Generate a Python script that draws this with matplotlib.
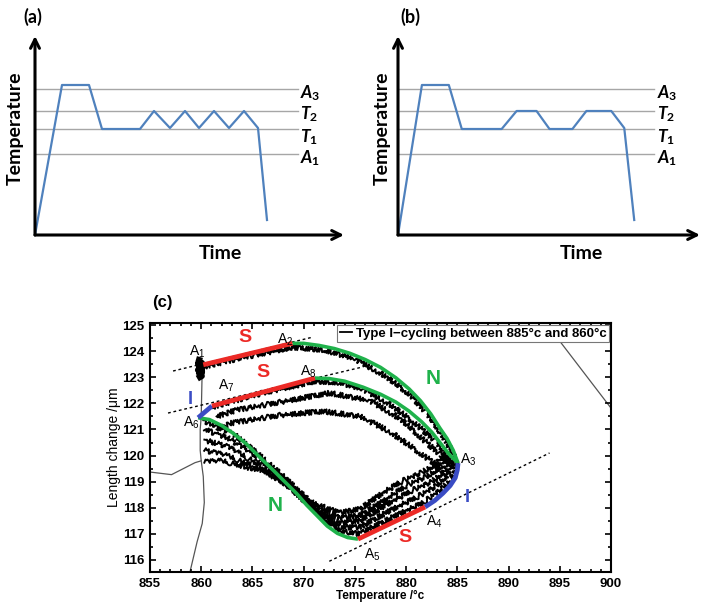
import matplotlib
matplotlib.use('Agg')
import matplotlib.pyplot as plt
from matplotlib.lines import Line2D
from matplotlib.ticker import MultipleLocator

plt.rcParams['mathtext.fontset'] = 'custom'
plt.rcParams['mathtext.it'] = 'Lato:italic:bold'
plt.rcParams['mathtext.rm'] = 'Lato:bold'
plt.rcParams['mathtext.sf'] = 'Liberation Sans'

# ---- (a)/(b) schematic heat treatment profiles (arbitrary units) ----
time_a = [0, 27, 54, 67, 105, 119, 135, 150, 164, 179, 194, 209, 223, 232]
temp_a = [0, 150, 150, 106, 106, 124, 107, 124, 107, 124, 107, 124, 107, 15]
time_b = [0, 24, 51, 64, 104, 119, 139, 152, 175, 189, 214, 227, 237]
temp_b = [0, 150, 150, 106, 106, 124, 124, 106, 106, 124, 124, 107, 15]
level_names = ['A_3', 'T_2', 'T_1', 'A_1']
level_values = [146, 124, 106, 81]

# ---- (c) dilatometry, temperature (C) vs length change (um) ----
# measured traces (heating)
h1_T = [860.2, 864, 868.9, 872, 875, 878, 880.5, 882.5, 884, 885]
h1_L = [123.4, 123.75, 124.15, 124.05, 123.7, 123.05, 122.3, 121.4, 120.5, 119.7]
h2_T = [861.0, 866, 871.1, 873.5, 876, 878.5, 881, 883, 884.5]
h2_L = [121.85, 122.4, 122.85, 122.8, 122.5, 121.95, 121.2, 120.5, 119.8]
h3_T = [861.5, 863.5, 867.7, 872.5, 876.5, 879.5, 882, 884, 885]
h3_L = [121.5, 121.75, 122.05, 122.4, 122.1, 121.4, 120.5, 119.8, 119.5]
h4_T = [861.5, 863, 867.7, 871.9, 875.5, 878.5, 881, 883.5, 884.8]
h4_L = [121.0, 121.25, 121.55, 121.7, 121.5, 120.9, 120.2, 119.5, 119.2]
# measured traces (cooling)
c1_T = [885, 884.6, 883.4, 881.7, 878.5, 875.5, 873.5, 871.8, 869.9, 868, 865.7, 863.1, 860.2]
c1_L = [119.75, 119.15, 118.7, 118.2, 117.6, 117.0, 117.1, 117.65, 118.5, 119.2, 120.0, 120.85, 121.35]
c2_T = [884.6, 884.0, 882.8, 881, 878, 875.5, 873.5, 871.5, 869.5, 867.5, 865, 862.5, 860.3]
c2_L = [119.8, 119.25, 118.8, 118.4, 117.8, 117.25, 117.25, 117.8, 118.55, 119.3, 120.05, 120.7, 121.0]
c3_T = [884.3, 883.7, 882.5, 880.5, 878, 875.5, 873.5, 871.5, 869.5, 867.5, 865, 862.5, 860.3]
c3_L = [119.9, 119.4, 119.0, 118.65, 118.1, 117.5, 117.4, 117.9, 118.5, 119.15, 119.8, 120.35, 120.6]
c4_T = [884.0, 883.3, 882, 880, 878, 875.5, 873.5, 871.5, 869.5, 867.5, 865, 862.5, 860.3]
c4_L = [120.0, 119.55, 119.2, 118.85, 118.3, 117.7, 117.6, 118.0, 118.6, 119.1, 119.6, 120.0, 120.2]
c5_T = [883.8, 883, 881.5, 879.5, 877.5, 875.5, 873.5, 871.5, 870, 868.5, 866.5, 864, 862, 860.3]
c5_L = [120.1, 119.7, 119.35, 119.0, 118.5, 117.95, 117.8, 118.1, 118.3, 118.85, 119.35, 119.6, 119.8, 119.75]
blob_T = [859.9, 859.9]
blob_L = [123.0, 123.65]

# thin background curves
g1_T = [860.1, 860.0, 859.9, 859.9, 860.0, 860.2, 860.3, 860.1, 859.6, 858.9]
g1_L = [123.4, 121.5, 121.0, 120.2, 119.8, 119.2, 118.2, 117.4, 116.7, 115.54]
g2_T = [855, 857.1, 859.4, 860.0]
g2_L = [119.37, 119.27, 119.73, 119.8]
g3_T = [894.5, 900]
g3_L = [124.64, 121.82]

# stage segments
S1_T = [860.2, 868.9]; S1_L = [123.48, 124.3]
S2_T = [861.05, 871.1]; S2_L = [121.9, 122.97]
S3_T = [875.3, 881.85]; S3_L = [116.8, 118.03]
N1_T = [868.9, 870, 871.5, 873, 874.5, 876, 877.5, 879, 880.3, 881.4, 882.4, 883.3, 884.0, 884.6, 885.07]
N1_L = [124.3, 124.3, 124.22, 124.1, 123.92, 123.68, 123.38, 122.98, 122.55, 122.1, 121.6, 121.05,
        120.65, 120.2, 119.71]
N2_T = [871.1, 872.5, 874, 875.8, 877.5, 879, 880.3, 881.5, 882.5, 883.4, 884.2, 885.07]
N2_L = [122.97, 122.95, 122.85, 122.62, 122.35, 122.05, 121.7, 121.3, 120.9, 120.45, 120.05, 119.71]
N3_T = [859.7, 860.8, 862, 863.1, 864.4, 865.7, 867, 868.2, 869.3, 870.3, 871.3, 872.3, 873.3,
        874.3, 875.3]
N3_L = [121.45, 121.38, 121.15, 120.86, 120.45, 119.94, 119.45, 118.98, 118.55, 118.1, 117.7, 117.3,
        117.02, 116.86, 116.8]
I1_T = [859.7, 861.05]; I1_L = [121.45, 121.9]
I2_T = [881.85, 882.8, 883.6, 884.3, 884.8, 885.0, 885.07]
I2_L = [118.03, 118.28, 118.56, 118.85, 119.15, 119.45, 119.71]
# tangent lines
d1_T = [857.25, 870.9]; d1_L = [123.24, 124.54]
d2_T = [856.76, 875.7]; d2_L = [121.63, 123.39]
d3_T = [872.5, 894.0]; d3_L = [115.95, 120.1]

point_names = ['A_1', 'A_2', 'A_3', 'A_4', 'A_5', 'A_6', 'A_7', 'A_8']
point_T = [859.6, 868.2, 886.1, 882.7, 876.7, 859.0, 862.4, 870.4]
point_L = [123.97, 124.43, 119.83, 117.46, 116.19, 121.25, 122.67, 123.2]

W, H = 701, 602
fig = plt.figure(figsize=(W / 100, H / 100), dpi=100)


def px_axes(x0, y0, x1, y1):
    return fig.add_axes([x0 / W, 1 - y1 / H, (x1 - x0) / W, (y1 - y0) / H])


BLUE_LINE = '#4f81bd'
GRAY = '#a6a6a6'
label_drop = [9, 8, 13, 9]   # baseline of each level label below its line


def schematic(ax, t, T, xmax, line_end, label_x, tag, ylab_x, time_x):
    ax.set_xlim(0, xmax)
    ax.set_ylim(0, 200)
    ax.axis('off')
    for name, val, drop in zip(level_names, level_values, label_drop):
        ax.plot([0, line_end], [val, val], color=GRAY, lw=1.0, zorder=1)
        ax.text(label_x, val - drop, '$' + name + '$', fontsize=12.5, va='baseline', ha='left')
    ax.plot(t, T, color=BLUE_LINE, lw=1.6, zorder=2)
    arrow = dict(arrowstyle='->', lw=2.2, color='black', shrinkA=0, shrinkB=0, mutation_scale=16)
    ax.annotate('', xy=(0, 199), xytext=(0, 0), arrowprops=arrow, annotation_clip=False)
    ax.annotate('', xy=(xmax - 1, 0), xytext=(0, 0), arrowprops=arrow, annotation_clip=False)
    ax.text(ylab_x, 107, 'Temperature', rotation=90, fontsize=14, fontfamily='Lato',
            fontweight='bold', ha='center', va='center')
    ax.text(time_x, -18, 'Time', fontsize=14, fontfamily='Lato', fontweight='bold',
            ha='center', va='center')
    ax.text(tag[0], 218, tag[1], fontsize=13, fontfamily='Lato', fontweight='bold',
            ha='center', va='center')


ax_a = px_axes(35, 35, 345, 235)
schematic(ax_a, time_a, temp_a, 310, 263, 265, (-2, '(a)'), -20, 185)
ax_b = px_axes(398, 35, 701, 235)
schematic(ax_b, time_b, temp_b, 304, 257, 260, (12, '(b)'), -16, 184)

# ---- (c) ----
RED = '#ec2a26'
GREEN = '#1fb24b'
BLUE = '#3a4cc4'
ax = px_axes(150, 323, 611, 572)
ax.set_xlim(855, 900)
ax.set_ylim(115.54, 125.08)

for xs, ys in [(g1_T, g1_L), (g2_T, g2_L), (g3_T, g3_L)]:
    ax.plot(xs, ys, color='#555555', lw=0.9, zorder=1)

traces = [(h1_T, h1_L), (h2_T, h2_L), (h3_T, h3_L), (h4_T, h4_L),
          (c1_T, c1_L), (c2_T, c2_L), (c3_T, c3_L), (c4_T, c4_L), (c5_T, c5_L)]
for xs, ys in traces:
    ln, = ax.plot(xs, ys, color='black', lw=1.4, zorder=2)
    ln.set_sketch_params(scale=2.5, length=1.2, randomness=2)
ln, = ax.plot(blob_T, blob_L, color='black', lw=4.5, zorder=2)
ln.set_sketch_params(scale=2, length=2, randomness=3)

for xs, ys in [(d1_T, d1_L), (d2_T, d2_L), (d3_T, d3_L)]:
    ax.plot(xs, ys, color='black', lw=1.0, ls=(0, (2, 2)), zorder=3)

for xs, ys in [(N1_T, N1_L), (N2_T, N2_L), (N3_T, N3_L)]:
    ax.plot(xs, ys, color=GREEN, lw=2.6, zorder=4, solid_capstyle='butt', solid_joinstyle='round')
for xs, ys in [(I1_T, I1_L), (I2_T, I2_L)]:
    ax.plot(xs, ys, color=BLUE, lw=3.4, zorder=4, solid_capstyle='butt', solid_joinstyle='round')
for xs, ys in [(S1_T, S1_L), (S2_T, S2_L), (S3_T, S3_L)]:
    ax.plot(xs, ys, color=RED, lw=3.4, zorder=5, solid_capstyle='butt')

for name, x, y in zip(point_names, point_T, point_L):
    ax.text(x, y, r'$\mathsf{' + name[0] + r'}_\mathsf{' + name[2] + '}$', fontsize=10,
            ha='center', va='center', zorder=6)

lbl = dict(fontfamily='Liberation Sans', fontweight='bold', ha='center', va='center', zorder=6)
ax.text(864.3, 124.51, 'S', color=RED, fontsize=14, **lbl)
ax.text(866.0, 123.2, 'S', color=RED, fontsize=14, **lbl)
ax.text(879.9, 116.88, 'S', color=RED, fontsize=14, **lbl)
ax.text(882.6, 122.97, 'N', color=GREEN, fontsize=15, **lbl)
ax.text(867.2, 118.1, 'N', color=GREEN, fontsize=15, **lbl)
ax.text(858.9, 122.13, 'I', color=BLUE, fontsize=13, **lbl)
ax.text(885.95, 118.41, 'I', color=BLUE, fontsize=13, **lbl)

ax.set_xticks(range(855, 901, 5))
ax.set_yticks(range(116, 126))
ax.xaxis.set_minor_locator(MultipleLocator(1))
ax.yaxis.set_minor_locator(MultipleLocator(0.5))
ax.tick_params(which='both', direction='in', top=True, right=True, width=1.2)
ax.tick_params(which='major', length=4, labelsize=9.5, pad=4)
ax.tick_params(which='minor', length=2)
for t in ax.get_xticklabels() + ax.get_yticklabels():
    t.set_fontfamily('Liberation Sans')
    t.set_fontweight('bold')
for s in ax.spines.values():
    s.set_linewidth(1.5)
ax.set_xlabel('Temperature /°c', fontfamily='Liberation Sans', fontweight='bold',
              fontsize=8.5, labelpad=0)
ax.set_ylabel('Length change /μm', fontfamily='Liberation Sans', fontsize=10, labelpad=1)

proxy = Line2D([], [], color='black', lw=1.3)
leg = ax.legend([proxy], ['Type I−cycling between 885°c and 860°c'], loc='upper right',
                handlelength=0.9, handletextpad=0.3, borderaxespad=0.15, borderpad=0.2,
                fancybox=False, edgecolor='#777777', framealpha=1,
                prop=dict(family='Liberation Sans', weight='bold', size=9.5))
leg.set_zorder(7)
leg.get_frame().set_linewidth(0.8)

fig.text(162 / W, 1 - 302 / H, '(c)', fontfamily='Liberation Sans', fontweight='bold',
         fontsize=12, ha='center', va='center')

fig.savefig('out.png', dpi=100)
